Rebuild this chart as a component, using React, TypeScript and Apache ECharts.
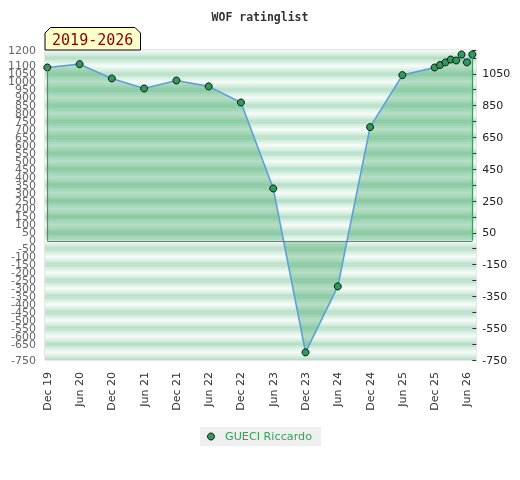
import { useEffect, useRef } from "react";
import * as echarts from "echarts";

const chartTitle = "WOF ratinglist";
const periodLabel = "2019-2026";
const seriesName = "GUECI Riccardo";

const dates = [
  "2019-12", "2020-06", "2020-12", "2021-06", "2021-12", "2022-06", "2022-12",
  "2023-06", "2023-12", "2024-06", "2024-12", "2025-06", "2025-12", "2026-01",
  "2026-02", "2026-03", "2026-04", "2026-05", "2026-06", "2026-07",
];
const ratings = [
  1090, 1111, 1021, 958, 1008, 971, 870,
  329, -702, -287, 715, 1042, 1090, 1106,
  1122, 1140, 1134, 1172, 1122, 1172,
];
const xTickLabels = [
  "Dec 19", "Jun 20", "Dec 20", "Jun 21", "Dec 21", "Jun 22", "Dec 22",
  "Jun 23", "Dec 23", "Jun 24", "Dec 24", "Jun 25", "Dec 25", "Jun 26",
];
const yMin = -750;
const yMax = 1200;
const yStep = 50;
const rightTickStep = 100;
const rightLabelStep = 200;
const monthsPerTick = 6;

const monthIndex = (d: string) => {
  const [y, m] = d.split("-").map(Number);
  return (y - 2019) * 12 + (m - 12);
};

export default function App() {
  const ref = useRef<HTMLDivElement>(null);
  useEffect(() => {
    const chart = echarts.init(ref.current!, null, { renderer: "svg" });
    const points = dates.map((d, i) => [monthIndex(d), ratings[i]]);
    const first = points[0];
    const last = points[points.length - 1];
    const dark = "#b2ddc3";
    const mid = "#d6eee0";
    const white = "#f6fbf8";
    const gradDarkBottom = new echarts.graphic.LinearGradient(0, 0, 0, 1, [
      { offset: 0, color: white },
      { offset: 0.55, color: mid },
      { offset: 1, color: dark },
    ]);
    const gradDarkTop = new echarts.graphic.LinearGradient(0, 0, 0, 1, [
      { offset: 0, color: dark },
      { offset: 0.45, color: mid },
      { offset: 1, color: white },
    ]);
    const font = "DejaVu Sans";
    chart.setOption({
      animation: false,
      title: {
        text: chartTitle,
        left: "center",
        top: 6,
        textStyle: {
          fontFamily: "DejaVu Sans Mono",
          fontSize: 11.5,
          fontWeight: "bold",
          color: "#333",
        },
      },
      grid: [
        {
          left: 45,
          top: 50,
          width: 431,
          height: 310,
          show: true,
          borderColor: "#cfcfcf",
          borderWidth: 1,
          backgroundColor: "transparent",
        },
        { left: 47.3, right: 47.7, top: 50, height: 310 },
      ],
      xAxis: [
        { gridIndex: 0, type: "value", min: 0, max: 1, show: false },
        {
          gridIndex: 1,
          type: "value",
          min: 0,
          max: Math.max(...points.map((p) => p[0])),
          interval: monthsPerTick,
          axisLine: { show: false },
          axisTick: { show: false },
          splitLine: { show: false },
          axisLabel: {
            rotate: 90,
            margin: 12,
            fontFamily: font,
            fontSize: 11,
            color: "#333",
            formatter: (v: number) =>
              v % monthsPerTick === 0 ? xTickLabels[v / monthsPerTick] ?? "" : "",
          },
        },
      ],
      yAxis: [
        {
          gridIndex: 0,
          type: "value",
          min: yMin,
          max: yMax,
          interval: yStep,
          position: "left",
          axisLine: { show: false },
          axisTick: { show: false },
          splitLine: { show: false },
          splitArea: {
            show: true,
            areaStyle: { color: [gradDarkBottom, gradDarkTop] },
          },
          axisLabel: {
            margin: 9,
            fontFamily: font,
            fontSize: 11,
            color: "#666",
            showMinLabel: true,
            showMaxLabel: true,
            hideOverlap: false,
            formatter: (v: number) => String(v),
          },
        },
        {
          gridIndex: 1,
          type: "value",
          min: yMin,
          max: yMax,
          show: false,
        },
        {
          gridIndex: 1,
          type: "value",
          min: 0,
          max: yMax - yMin,
          interval: rightTickStep,
          position: "right",
          axisLine: { show: false },
          splitLine: { show: false },
          axisTick: { show: true, length: 4, lineStyle: { color: "#333" } },
          axisLabel: {
            margin: 10,
            fontFamily: font,
            fontSize: 11,
            color: "#222",
            showMinLabel: true,
            formatter: (v: number) =>
              v % rightLabelStep === 0 ? String(v + yMin) : "",
          },
        },
      ],
      legend: {
        left: 200,
        top: 427,
        padding: [4, 9, 4, 7],
        itemWidth: 18,
        itemHeight: 7,
        backgroundColor: "#efefef",
        textStyle: { color: "#33a457", fontSize: 11.2, fontFamily: font },
        data: [
          {
            name: seriesName,
            icon: "circle",
            itemStyle: { color: "#2f9a5c", borderColor: "#111", borderWidth: 1 },
          },
        ],
      },
      graphic: [
        {
          type: "polygon",
          z: 100,
          shape: {
            points: [
              [45, 50],
              [45, 33],
              [50.5, 27.5],
              [135, 27.5],
              [140.5, 33],
              [140.5, 50],
            ],
          },
          style: { fill: "#ffffcc", stroke: "#000", lineWidth: 1 },
        },
        {
          type: "text",
          z: 101,
          x: 92.7,
          y: 39.5,
          style: {
            text: periodLabel,
            fontFamily: "DejaVu Sans Mono",
            fontSize: 15,
            fill: "#8b0000",
            align: "center",
            verticalAlign: "middle",
          },
        },
      ],
      series: [
        {
          name: seriesName,
          type: "line",
          xAxisIndex: 1,
          yAxisIndex: 1,
          data: points,
          symbol: "circle",
          symbolSize: 7,
          itemStyle: { color: "#2f9a5c", borderColor: "#111", borderWidth: 1 },
          lineStyle: { color: "#5d9fdb", width: 1.6 },
          areaStyle: { color: "rgba(30,150,75,0.42)" },
          markLine: {
            silent: true,
            symbol: ["none", "none"],
            label: { show: false },
            lineStyle: { color: "#3c9a5f", width: 1.2, type: "solid" },
            data: [
              { yAxis: 0 },
              [{ coord: first }, { coord: [first[0], 0] }],
              [{ coord: last }, { coord: [last[0], 0] }],
            ],
          },
        },
      ],
    });
    return () => chart.dispose();
  }, []);
  return (
    <div
      ref={ref}
      style={{ position: "fixed", left: 0, top: 0, width: 520, height: 480 }}
    />
  );
}
